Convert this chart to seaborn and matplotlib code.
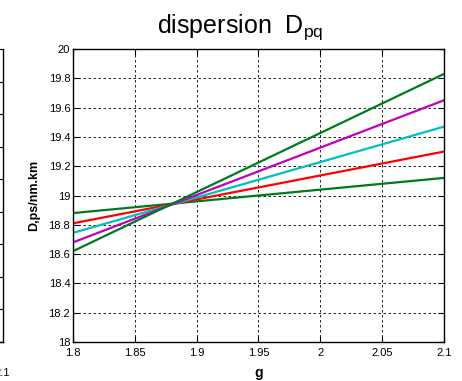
import numpy as np
import pandas as pd
import matplotlib
matplotlib.use("Agg")
import matplotlib.pyplot as plt
import seaborn as sns

# g range (straight lines, read at both ends)
g = [1.8, 2.1]
d_green = [18.88, 19.12]
d_red = [18.81, 19.30]
d_cyan = [18.745, 19.47]
d_magenta = [18.68, 19.65]
d_darkgreen = [18.62, 19.83]

series_names = ["s1", "s2", "s3", "s4", "s5"]
series_values = [d_green, d_red, d_cyan, d_magenta, d_darkgreen]
series_colors = ["#007a1e", "#ff0000", "#00bfbf", "#bf00bf", "#007a1e"]

xticks = [1.8, 1.85, 1.9, 1.95, 2.0, 2.05, 2.1]
xticklabels = ["1.8", "1.85", "1.9", "1.95", "2", "2.05", "2.1"]
yticks = [18, 18.2, 18.4, 18.6, 18.8, 19, 19.2, 19.4, 19.6, 19.8, 20]
yticklabels = ["18", "18.2", "18.4", "18.6", "18.8", "19", "19.2", "19.4", "19.6", "19.8", "20"]

rows = []
for name, vals in zip(series_names, series_values):
    for x, v in zip(g, vals):
        rows.append({"g": x, "D": v, "series": name})
df = pd.DataFrame(rows)

sns.set_style("white")
plt.rcParams["font.family"] = ["Liberation Sans", "DejaVu Sans"]
plt.rcParams["mathtext.default"] = "regular"
plt.rcParams["text.color"] = "black"
plt.rcParams["axes.labelcolor"] = "black"
plt.rcParams["xtick.color"] = "black"
plt.rcParams["ytick.color"] = "black"

fig = plt.figure(figsize=(4.62, 3.81), dpi=100)
W, H = 462, 381

# remnant of the neighbouring subplot on the left edge
ax0 = fig.add_axes([(2.5 - 300) / W, (H - 342) / H, 300 / W, 293 / H])
ax0.set_xlim(1.8, 2.1)
ax0.set_ylim(0, 9)
ax0.set_yticks(range(10))
ax0.set_yticklabels([])
ax0.set_xticks([2.1])
ax0.set_xticklabels(["2.1"], fontsize=8)
ax0.tick_params(axis="x", direction="in", pad=19, length=0)
ax0.tick_params(axis="y", direction="in", length=3, right=True, left=False, width=0.8)
for side in ["left", "top"]:
    ax0.spines[side].set_visible(False)
for side in ["right", "bottom"]:
    ax0.spines[side].set_color("black")
    ax0.spines[side].set_linewidth(1.0)

ax = fig.add_axes([73 / W, (H - 342) / H, (444 - 73) / W, 293 / H])
sns.lineplot(
    data=df, x="g", y="D", hue="series", palette=series_colors,
    hue_order=series_names, linewidth=1.6, legend=False, ax=ax,
)
ax.set_xlim(1.8, 2.1)
ax.set_ylim(18, 20)
ax.set_xticks(xticks)
ax.set_xticklabels(xticklabels, fontsize=8)
ax.set_yticks(yticks)
ax.set_yticklabels(yticklabels, fontsize=8)
ax.tick_params(direction="in", length=4, width=0.8, top=True, right=True,
               bottom=True, left=True, pad=2)
ax.tick_params(axis="x", pad=4)
ax.grid(True, color="black", linestyle=(0, (3, 3)), linewidth=0.6)
for s in ax.spines.values():
    s.set_color("black")
    s.set_linewidth(1.0)

title = ax.set_title("dispersion  D$_{pq}$", fontsize=18, pad=12)
title.set_x(0.45)
ax.set_xlabel("g", fontsize=10, fontweight="bold", labelpad=6)
ax.set_ylabel("D,ps/nm.km", fontsize=9, fontweight="bold", labelpad=6)

fig.savefig("out.png", dpi=100)
plt.close(fig)
